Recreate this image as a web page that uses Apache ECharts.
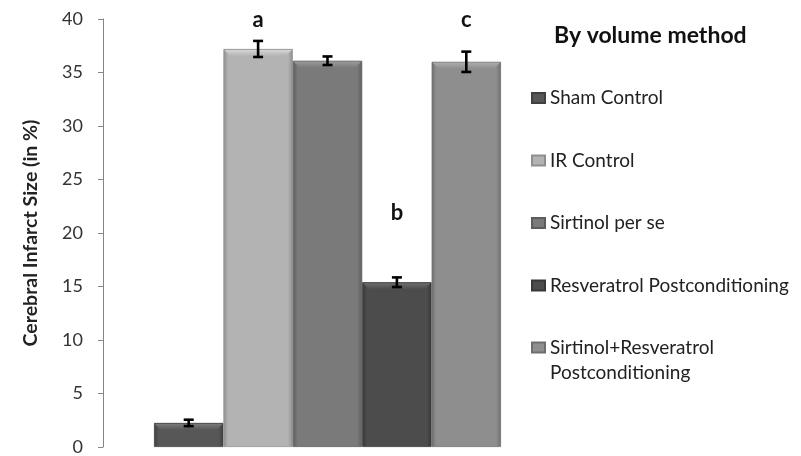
<!DOCTYPE html>
<html>
<head>
<meta charset="utf-8">
<script src="https://cdn.jsdelivr.net/npm/echarts@6/dist/echarts.min.js"></script>
<style>html,body{margin:0;padding:0;background:#fff}#c{width:801px;height:456px}</style>
</head>
<body>
<div id="c"></div>
<script>
// ---- data ----
var groups = ['Sham Control', 'IR Control', 'Sirtinol per se', 'Resveratrol Postconditioning', 'Sirtinol+Resveratrol Postconditioning'];
var values = [2.25, 37.2, 36.1, 15.4, 36.0];
var errors = [0.3, 0.75, 0.4, 0.45, 0.95];
var sigLetters = ['', 'a', '', 'b', 'c'];
var letterY = [null, 39.9, null, 21.9, 39.9];
var yTicks = [0, 5, 10, 15, 20, 25, 30, 35, 40];

// ---- style ----
var baseColors = ['#575757', '#b3b3b3', '#7a7a7a', '#4c4c4c', '#8e8e8e'];
var edgeColors = ['#404040', '#8f8f8f', '#5c5c5c', '#383838', '#6e6e6e'];
var bevelColors = ['#7a7a7a', '#d6d6d6', '#9a9a9a', '#6c6c6c', '#ababab'];
var FONT = 'Lato, "Open Sans", sans-serif';

function grad(i) {
  return new echarts.graphic.LinearGradient(0, 0, 1, 0, [
    {offset: 0, color: edgeColors[i]},
    {offset: 0.07, color: baseColors[i]},
    {offset: 0.93, color: baseColors[i]},
    {offset: 1, color: edgeColors[i]}
  ]);
}

var series = groups.map(function (name, i) {
  var d = groups.map(function (_, j) { return j === i ? values[i] : null; });
  return {
    name: name, type: 'bar', stack: 'all', barWidth: '100%', data: d,
    itemStyle: {color: grad(i), borderColor: edgeColors[i], borderWidth: 0.8},
    emphasis: {disabled: true}
  };
});

// bevel on bar tops
series.push({
  type: 'custom', silent: true, z: 3,
  data: values.map(function (v, i) { return [i, v]; }),
  renderItem: function (params, api) {
    var i = api.value(0);
    var p = api.coord([i, api.value(1)]);
    var w = api.size([1, 0])[0];
    var x0 = p[0] - w / 2 + 1, x1 = p[0] + w / 2 - 1, y = p[1] + 1, b = 6;
    return {
      type: 'polygon',
      shape: {points: [[x0, y], [x1, y], [x1 - b, y + b], [x0 + b, y + b]]},
      style: {fill: new echarts.graphic.LinearGradient(0, 0, 0, 1, [
        {offset: 0, color: bevelColors[i]}, {offset: 1, color: baseColors[i]}])}
    };
  }
});

// error bars
series.push({
  type: 'custom', silent: true, z: 5,
  data: values.map(function (v, i) { return [i, v - errors[i], v + errors[i]]; }),
  renderItem: function (params, api) {
    var lo = api.coord([api.value(0), api.value(1)]);
    var hi = api.coord([api.value(0), api.value(2)]);
    var c = 5;
    var st = {stroke: '#000', lineWidth: 2.6};
    return {type: 'group', children: [
      {type: 'line', shape: {x1: lo[0], y1: lo[1], x2: hi[0], y2: hi[1]}, style: st},
      {type: 'line', shape: {x1: lo[0] - c, y1: lo[1], x2: lo[0] + c, y2: lo[1]}, style: st},
      {type: 'line', shape: {x1: hi[0] - c, y1: hi[1], x2: hi[0] + c, y2: hi[1]}, style: st}
    ]};
  }
});

// significance letters
series.push({
  type: 'custom', silent: true, z: 6,
  data: sigLetters.map(function (t, i) { return [i, letterY[i] == null ? 0 : letterY[i]]; }),
  renderItem: function (params, api) {
    var i = params.dataIndex;
    if (!sigLetters[i]) return null;
    var p = api.coord([api.value(0), api.value(1)]);
    return {type: 'text', x: p[0], y: p[1], style: {
      text: sigLetters[i], fill: '#111', font: 'bold 22px ' + FONT,
      align: 'center', verticalAlign: 'middle'}};
  }
});

var legendText = {fontFamily: FONT, fontSize: 19, color: '#222', lineHeight: 22};

var chart = echarts.init(document.getElementById('c'), null, {renderer: 'canvas'});
chart.setOption({
  animation: false,
  backgroundColor: '#fff',
  title: {
    text: 'By volume method', left: 554, top: 24, padding: 0,
    textStyle: {fontFamily: FONT, fontWeight: 'bold', fontSize: 23, color: '#111'}
  },
  legend: [{
    orient: 'vertical', left: 531, top: 87, padding: 0,
    itemWidth: 13, itemHeight: 10, itemGap: 40.5,
    icon: 'rect',
    data: groups.slice(0, 4),
    textStyle: legendText
  }, {
    orient: 'vertical', left: 531, top: 310, padding: 0,
    itemWidth: 13, itemHeight: 10,
    icon: 'rect',
    data: groups.slice(4),
    formatter: function (n) { return ' \n' + n.replace('Sirtinol+Resveratrol ', 'Sirtinol+Resveratrol\n'); },
    textStyle: {fontFamily: FONT, fontSize: 19, color: '#222', lineHeight: 25}
  }],
  grid: {left: 154, right: 300, top: 19, bottom: 7},
  xAxis: {
    type: 'category', data: groups, boundaryGap: true,
    axisLine: {show: false}, axisTick: {show: false}, axisLabel: {show: false}
  },
  yAxis: {
    type: 'value', min: 0, max: 40, interval: 5, offset: 51,
    name: 'Cerebral Infarct Size (in %)', nameLocation: 'middle', nameGap: 62,
    nameTextStyle: {fontFamily: FONT, fontWeight: 'bold', fontSize: 19.5, color: '#222'},
    axisLine: {show: true, lineStyle: {color: '#868686', width: 1}},
    axisTick: {show: true, length: 5, lineStyle: {color: '#868686'}},
    axisLabel: {fontFamily: FONT, fontSize: 18, color: '#333', margin: 20,
      formatter: function (v) { return yTicks.indexOf(v) >= 0 ? String(v) : ''; }},
    splitLine: {show: false}
  },
  series: series
});
</script>
</body>
</html>
